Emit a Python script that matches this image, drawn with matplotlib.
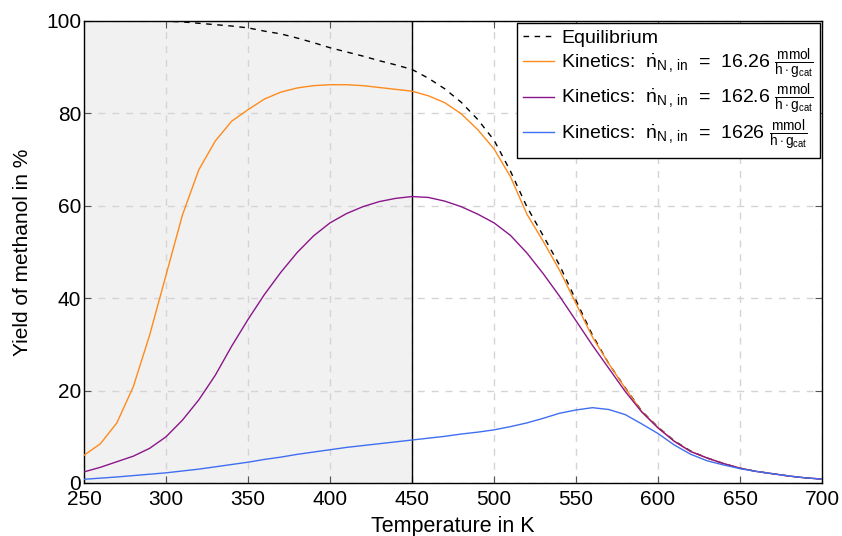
import matplotlib
matplotlib.use("Agg")
import matplotlib.pyplot as plt
import numpy as np

plt.rcParams['font.family'] = ['Liberation Sans', 'DejaVu Sans']
plt.rcParams['mathtext.fontset'] = 'custom'
plt.rcParams['mathtext.rm'] = 'Liberation Sans'
plt.rcParams['mathtext.it'] = 'Liberation Sans:italic'
plt.rcParams['mathtext.bf'] = 'Liberation Sans:bold'

temperature = [250, 260, 270, 280, 290, 300, 310, 320, 330, 340, 350, 360, 370, 380, 390,
               400, 410, 420, 430, 440, 450, 460, 470, 480, 490, 500, 510, 520, 530, 540,
               550, 560, 570, 580, 590, 600, 610, 620, 630, 640, 650, 660, 670, 680, 690, 700]

equilibrium = [100, 100, 100, 100, 100, 99.95, 99.8, 99.5, 99.2, 98.9, 98.5, 97.8, 97.2, 96.3, 95.3,
               94.2, 93.3, 92.4, 91.4, 90.5, 89.5, 87.6, 85.3, 82.4, 78.7, 74.2, 67.5, 59.8, 53.5, 47.1,
               39.5, 32.0, 25.8, 20.6, 15.6, 12.1, 9.1, 6.9, 5.4, 4.2, 3.2, 2.5, 2.0, 1.5, 1.1, 0.85]

kin_16 = [6.0, 8.5, 13.0, 20.8, 32.0, 45.0, 58.0, 67.8, 74.0, 78.3, 80.8, 83.1, 84.6, 85.5, 86.0,
          86.2, 86.2, 86.0, 85.6, 85.2, 84.8, 83.8, 82.3, 79.9, 76.5, 72.3, 66.3, 58.2, 52.3, 46.0,
          38.8, 31.6, 25.8, 20.5, 15.5, 12.0, 9.0, 6.8, 5.4, 4.2, 3.2, 2.5, 2.0, 1.5, 1.1, 0.85]

kin_162 = [2.4, 3.4, 4.6, 5.8, 7.5, 10.0, 13.6, 18.0, 23.3, 29.6, 35.4, 40.8, 45.6, 49.9, 53.5,
           56.3, 58.3, 59.8, 60.9, 61.6, 62.0, 61.8, 61.0, 59.8, 58.2, 56.3, 53.6, 49.8, 45.3, 40.4,
           35.1, 29.8, 24.8, 19.8, 15.4, 11.9, 9.0, 6.8, 5.4, 4.2, 3.2, 2.5, 2.0, 1.5, 1.1, 0.85]

kin_1626 = [0.8, 1.05, 1.3, 1.6, 1.9, 2.2, 2.6, 3.0, 3.5, 4.0, 4.5, 5.1, 5.6, 6.2, 6.7,
            7.2, 7.7, 8.1, 8.5, 8.9, 9.3, 9.7, 10.1, 10.6, 11.0, 11.5, 12.2, 13.0, 14.0, 15.1,
            15.8, 16.3, 15.9, 14.8, 12.8, 10.7, 8.2, 6.2, 4.8, 3.9, 3.1, 2.5, 2.0, 1.5, 1.1, 0.85]

flow_rates = ["16.26", "162.6", "1626"]
shade_range = (250, 450)

xticks = [250, 300, 350, 400, 450, 500, 550, 600, 650, 700]
yticks = [0, 20, 40, 60, 80, 100]

fig = plt.figure(figsize=(8.42, 5.36), dpi=100)
ax = fig.add_axes([0.0998, 0.0989, 0.8765, 0.862])

ax.axvspan(shade_range[0], shade_range[1], color='#f1f1f1', zorder=0, lw=0)
ax.axvline(shade_range[1], color='black', lw=1.0, zorder=3)

ax.grid(True, color='#d4d4d4', linestyle=(0, (5, 5)), linewidth=1.0, zorder=1)
ax.set_axisbelow(True)

unit = r'$\frac{\mathrm{mmol}}{\mathrm{h\cdot g_{cat}}}$'
nlab = r'$\dot{\mathrm{n}}_{\mathrm{N\,,\,in}}$'

ax.plot(temperature, equilibrium, color='black', lw=1.0, linestyle=(0, (4, 4)), label='Equilibrium', zorder=4)
colors = ['#ff8a1c', '#8b168b', '#3f6ff0']
for vals, fr, c in zip([kin_16, kin_162, kin_1626], flow_rates, colors):
    ax.plot(temperature, vals, color=c, lw=1.0, zorder=4,
            label='Kinetics:  ' + nlab + '  =  ' + fr + ' ' + unit)

ax.set_xlim(250, 700)
ax.set_ylim(0, 100)
ax.set_xticks(xticks)
ax.set_yticks(yticks)
ax.tick_params(direction='in', length=5, color='#555555', top=True, right=True,
               labelsize=15, pad=2)
ax.tick_params(axis='x', pad=5)
for s in ax.spines.values():
    s.set_color('black')
    s.set_linewidth(1.0)

ax.set_xlabel('Temperature in K', fontsize=15.5, labelpad=5)
ax.set_ylabel('Yield of methanol in %', fontsize=15, labelpad=10)

leg = ax.legend(loc='upper right', fontsize=14, frameon=True, fancybox=False,
                edgecolor='black', framealpha=1, borderaxespad=0.12,
                handlelength=1.6, handletextpad=0.4, labelspacing=0.0,
                borderpad=0.3)
leg.get_frame().set_linewidth(1.0)

fig.savefig('out.png', dpi=100)
